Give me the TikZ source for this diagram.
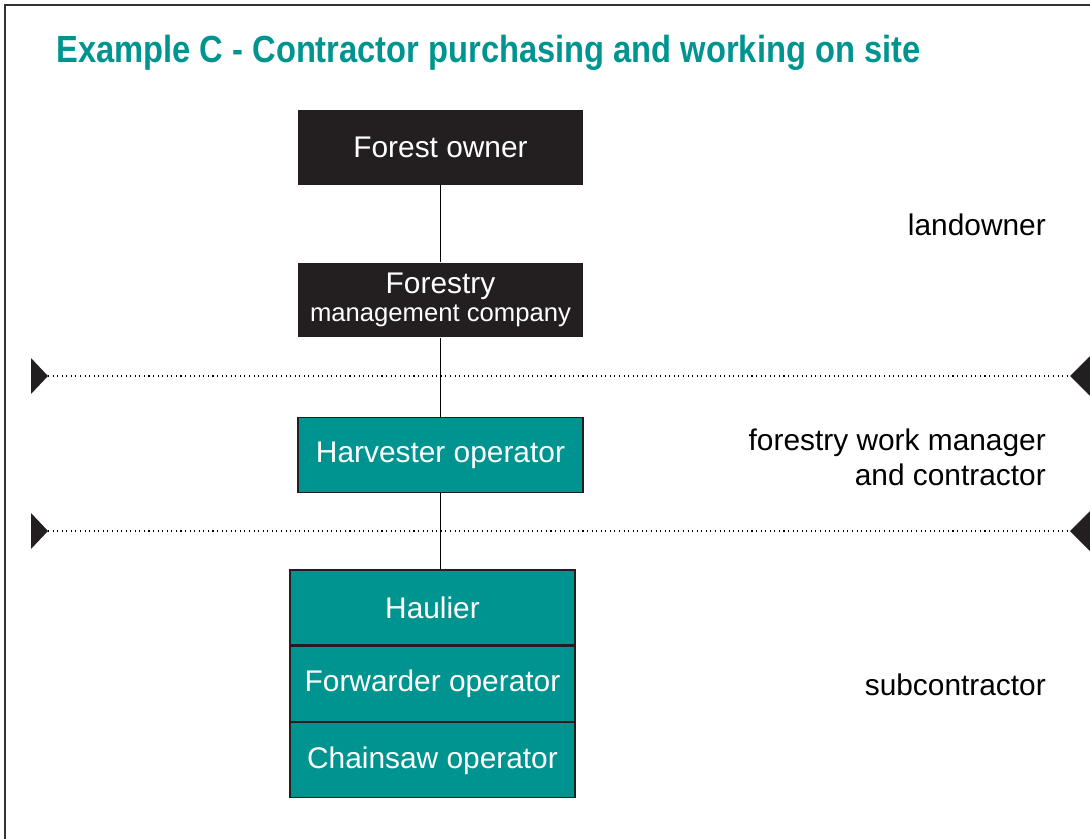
\documentclass[tikz,border=0pt]{standalone}
\usepackage{fontspec}
\setmainfont{Liberation Sans}
\usetikzlibrary{positioning}
\definecolor{teal}{RGB}{0,148,144}
\definecolor{boxblack}{RGB}{35,31,32}
\tikzset{
  darkbox/.style={fill=boxblack, text=white, minimum width=5.7cm, minimum height=1.5cm, inner sep=0pt, align=center, font=\fontsize{17}{18}\selectfont},
  tealbox/.style={fill=teal, draw=boxblack, line width=0.8pt, text=white, minimum width=5.7cm, minimum height=1.5cm, inner sep=0pt, font=\fontsize{17}{18}\selectfont},
  level/.style={anchor=east, align=right, font=\fontsize{17}{20}\selectfont},
  marker/.style={fill=boxblack}
}
\begin{document}
\begin{tikzpicture}[x=0.02cm,y=-0.02cm]
\useasboundingbox (0,0) rectangle (1090,839);

\draw[line width=1.6pt, black!80] (5,839) -- (5,5) -- (1090,5);

\node[anchor=base west, xscale=0.865, text=teal, font=\fontsize{21.5}{24}\selectfont\bfseries] (title) at (51,62) {Example C - Contractor purchasing and working on site};

\node[darkbox] (owner) at (440.5,147.5) {Forest owner};
\node[darkbox] (mgmt) at (440.5,300) {Forestry\\[-2pt]{\fontsize{14.6}{16}\selectfont management company}};
\node[tealbox] (harv) at (440.5,455) {Harvester operator};
\node[tealbox] (haul) at (432.5,607.5) {Haulier};
\node[tealbox, below=0pt of haul] (fwd) {Forwarder operator};
\node[tealbox, below=0pt of fwd] (saw) {Chainsaw operator};

\draw (owner) -- (mgmt);
\draw (mgmt) -- (harv);
\draw (harv.south) -- (harv.south |- haul.north);

% level separators
\coordinate (a1) at (48,376);
\coordinate (b1) at (1070,376);
\coordinate (a2) at (48,531);
\coordinate (b2) at (1070,531);
\draw[dotted, line width=0.6pt] (a1) -- (b1);
\draw[dotted, line width=0.6pt] (a2) -- (b2);
\fill[marker] (a1) -- ++(-17,-18) -- ++(0,36) -- cycle;
\fill[marker] (a2) -- ++(-17,-18) -- ++(0,36) -- cycle;
\fill[marker] (b1) -- ++(20,-20) -- ++(0,40) -- cycle;
\fill[marker] (b2) -- ++(20,-20) -- ++(0,40) -- cycle;

\node[level] (land) at (1052,225) {landowner};
\node[level] (work) at (1052,457) {forestry work manager\\and contractor};
\node[level] (sub) at (1052,685) {subcontractor};
\end{tikzpicture}
\end{document}
